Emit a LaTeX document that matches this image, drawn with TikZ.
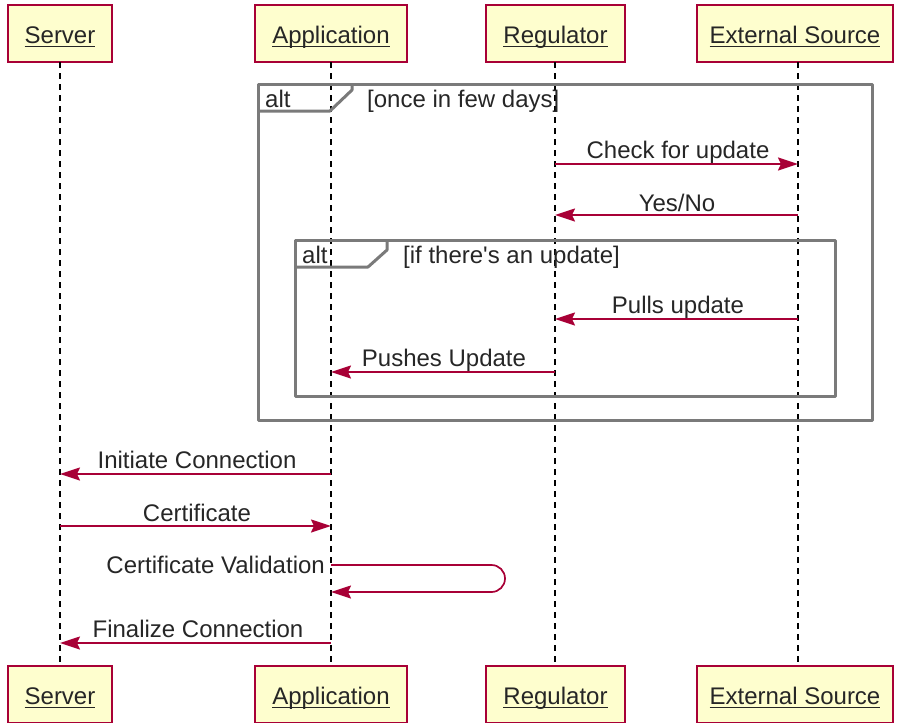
\documentclass[tikz,border=0pt]{standalone}
\usepackage{fontspec}
\setmainfont{Liberation Sans}
\usetikzlibrary{arrows.meta}
\definecolor{crim}{HTML}{A80036}
\definecolor{boxfill}{HTML}{FEFECE}
\definecolor{framegray}{HTML}{7A7A7A}
% underlined participant name, rule at a fixed depth below the baseline
\newcommand\ulname[1]{\setbox0\hbox{#1}\rlap{\vrule width\wd0 height -2.2pt depth 3.9pt}\box0}
\tikzset{
  txt/.style={font=\fontsize{24}{28}\selectfont, text=black!85, inner sep=0pt},
  actor/.style={txt, draw=crim, fill=boxfill, line width=1.7pt, minimum height=57pt,
                inner sep=0pt, text height=20pt, text depth=0pt},
  lifeline/.style={draw=black, line width=1.5pt, dash pattern=on 6pt off 5pt},
  msg/.style={draw=crim, line width=1.7pt, -{Stealth[length=20pt,width=13pt,inset=3pt]}},
  framebox/.style={draw=framegray, line width=3pt, line join=round},
  lbl/.style={txt, anchor=base},
}
\begin{document}
\begin{tikzpicture}[x=1pt,y=-1pt]
\useasboundingbox (0,0) rectangle (898,723);

% participants, top and bottom
\node[actor, minimum width=104pt] (st) at (60,33.5) {\ulname{Server}};
\node[actor, minimum width=152pt] (at) at (331,33.5) {\ulname{Application}};
\node[actor, minimum width=139pt] (rt) at (555.5,33.5) {\ulname{Regulator}};
\node[actor, minimum width=196pt] (et) at (795,33.5) {\ulname{External Source}};
\node[actor, minimum width=104pt] (sb) at (60,694.5) {\ulname{Server}};
\node[actor, minimum width=152pt] (ab) at (331,694.5) {\ulname{Application}};
\node[actor, minimum width=139pt] (rb) at (555.5,694.5) {\ulname{Regulator}};
\node[actor, minimum width=196pt] (eb) at (795,694.5) {\ulname{External Source}};

% lifelines
\draw[lifeline] (60,62) -- (60,666);
\draw[lifeline] (331,62) -- (331,666);
\draw[lifeline] (555,62) -- (555,666);
\draw[lifeline] (798,62) -- (798,666);

% outer alt fragment
\draw[framebox] (258,84) rectangle (872,420);
\draw[framebox] (258,111) -- (330,111) -- (352,90) -- (352,84);
\node[txt, anchor=base west] (alt1) at (265,107) {alt};
\node[txt, anchor=base west] (cond1) at (367,107) {[once in few days]};

% inner alt fragment
\draw[framebox] (295,240) rectangle (835,396);
\draw[framebox] (295,267) -- (368,267) -- (387,250) -- (387,240);
\node[txt, anchor=base west] (alt2) at (302,263) {alt};
\node[txt, anchor=base west] (cond2) at (403,263) {[if there\textquotesingle s an update]};

% message end points on the lifelines
\coordinate (r1) at (555,164); \coordinate (e1) at (798,164);
\coordinate (e2) at (798,215); \coordinate (r2) at (555,215);
\coordinate (e3) at (798,319); \coordinate (r3) at (555,319);
\coordinate (r4) at (555,372); \coordinate (a4) at (331,372);
\coordinate (a5) at (331,474); \coordinate (s5) at (60,474);
\coordinate (s6) at (60,526);  \coordinate (a6) at (331,526);
\coordinate (a7) at (331,565); \coordinate (a7b) at (331,592);
\coordinate (a8) at (331,643); \coordinate (s8) at (60,643);

% messages
\draw[msg] (r1) -- (e1);
\node[lbl] (l1) at (678,158) {Check for update};
\draw[msg] (e2) -- (r2);
\node[lbl] (l2) at (677,211) {Yes/No};
\draw[msg] (e3) -- (r3);
\node[lbl] (l3) at (678,313) {Pulls update};
\draw[msg] (r4) -- (a4);
\node[lbl] (l4) at (444,366) {Pushes Update};
\draw[msg] (a5) -- (s5);
\node[lbl] (l5) at (197,468) {Initiate Connection};
\draw[msg] (s6) -- (a6);
\node[lbl] (l6) at (197,521) {Certificate};
\draw[msg, rounded corners=13.5pt] (a7) -- (505,565) -- (505,592) -- (a7b);
\node[txt, anchor=base east] (l7) at (325,573) {Certificate Validation};
\draw[msg] (a8) -- (s8);
\node[lbl] (l8) at (198,637) {Finalize Connection};
\end{tikzpicture}
\end{document}
